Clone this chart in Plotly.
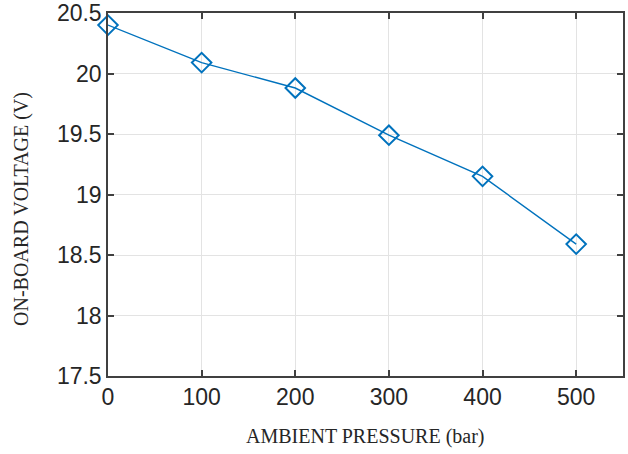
import plotly.graph_objects as go

pressure = [0, 100, 200, 300, 400, 500]
voltage = [20.40, 20.09, 19.88, 19.49, 19.15, 18.59]
x_ticks = [0, 100, 200, 300, 400, 500]
y_ticks = [17.5, 18, 18.5, 19, 19.5, 20, 20.5]
y_labels = ["17.5", "18", "18.5", "19", "19.5", "20", "20.5"]

fig = go.Figure()
fig.add_trace(go.Scatter(
    x=pressure, y=voltage, mode="lines+markers",
    line=dict(color="#0072BD", width=1.4),
    marker=dict(symbol="diamond-open", size=15, color="#0072BD", line=dict(width=2, color="#0072BD")),
    cliponaxis=False,
))

axis_common = dict(
    showline=True, linecolor="#404040", linewidth=1.5, mirror="ticks",
    ticks="inside", ticklen=6, tickcolor="#404040", tickwidth=1.5,
    showgrid=True, gridcolor="#e3e3e3", gridwidth=1, zeroline=False,
    tickfont=dict(family="Liberation Sans, Arial", size=23, color="#262626"),
    automargin=False,
)

fig.update_layout(
    width=628, height=454,
    margin=dict(l=108, r=5, t=13, b=78),
    paper_bgcolor="white", plot_bgcolor="white",
    showlegend=False,
    xaxis=dict(range=[0, 550], tickvals=x_ticks, **axis_common),
    yaxis=dict(range=[17.5, 20.5], tickvals=y_ticks, ticktext=y_labels, **axis_common),
    annotations=[
        dict(text="ON-BOARD VOLTAGE (V)", textangle=-90, showarrow=False,
             xref="paper", yref="paper", x=-0.169, y=0.46, xanchor="center", yanchor="middle",
             font=dict(family="Liberation Serif, Times New Roman", size=20, color="#262626")),
        dict(text="AMBIENT PRESSURE (bar)", showarrow=False,
             xref="paper", yref="paper", x=0.5, y=-0.168, xanchor="center", yanchor="middle",
             font=dict(family="Liberation Serif, Times New Roman", size=20, color="#262626")),
    ],
)

fig.write_html("out.html")
